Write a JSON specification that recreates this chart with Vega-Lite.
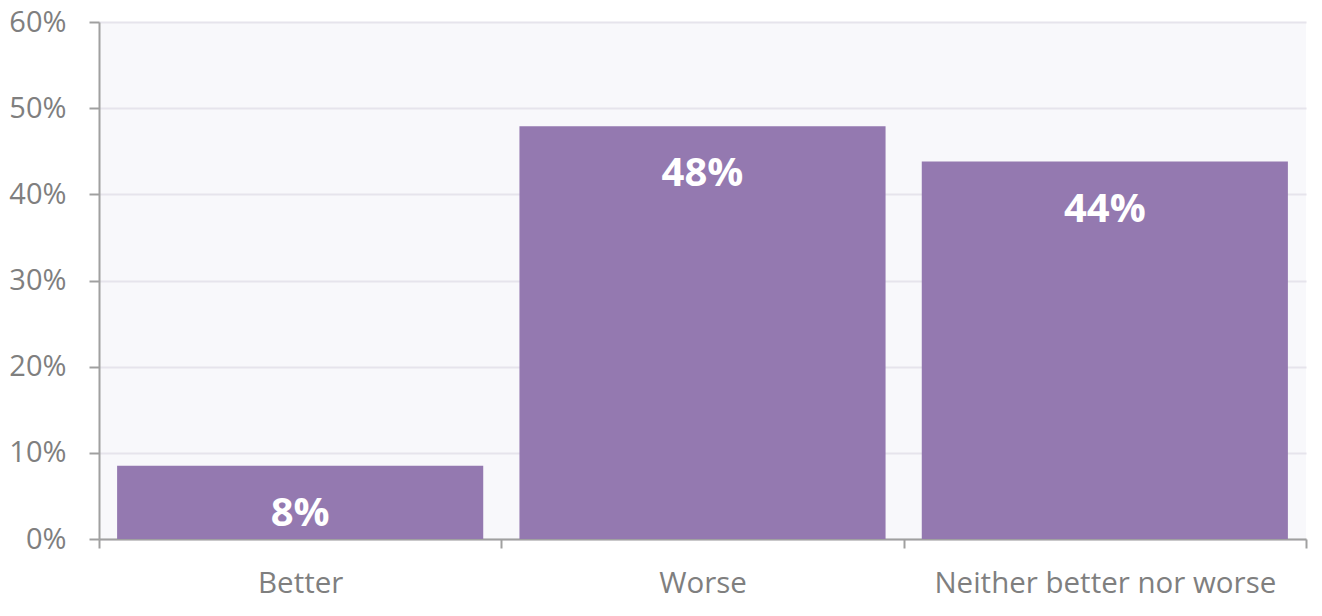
{
  "$schema": "https://vega.github.io/schema/vega-lite/v6.json",
  "width": 1207,
  "height": 517,
  "autosize": {"type": "none"},
  "padding": {"left": 99, "top": 22, "right": 16, "bottom": 77},
  "background": "white",
  "config": {
    "view": {"fill": "#f8f8fb", "stroke": null},
    "font": "Open Sans"
  },
  "data": {
    "values": [
      {"answer": "Better", "share": 8.5, "label": "8%"},
      {"answer": "Worse", "share": 47.9, "label": "48%"},
      {"answer": "Neither better nor worse", "share": 43.8, "label": "44%"}
    ]
  },
  "encoding": {
    "x": {
      "field": "answer",
      "type": "nominal",
      "sort": null,
      "scale": {"paddingInner": 0, "paddingOuter": 0},
      "axis": {
        "title": null,
        "labelAngle": 0,
        "labelFont": "Open Sans",
        "labelFontSize": 29.5,
        "labelLimit": 600,
        "labelColor": "#7f7f7f",
        "labelPadding": 21,
        "tickBand": "extent",
        "tickSize": 9,
        "tickColor": "#a0a0a0",
        "tickWidth": 2,
        "domainColor": "#a0a0a0",
        "domainWidth": 2,
        "grid": false
      }
    }
  },
  "layer": [
    {
      "mark": {"type": "bar", "color": "#9479b0", "width": {"band": 0.91}},
      "encoding": {
        "y": {
          "field": "share",
          "type": "quantitative",
          "scale": {"domain": [0, 60]},
          "axis": {
            "title": null,
            "values": [0, 10, 20, 30, 40, 50, 60],
            "labelExpr": "datum.value + '%'",
            "labelFont": "Open Sans",
            "labelFontSize": 29,
            "labelColor": "#7f7f7f",
            "labelPadding": 23,
            "tickSize": 10,
            "tickColor": "#a0a0a0",
            "tickWidth": 2,
            "domainColor": "#a0a0a0",
            "domainWidth": 2,
            "gridColor": "#e6e4ec",
            "gridWidth": 2
          }
        }
      }
    },
    {
      "mark": {"type": "text", "color": "white", "fontSize": 40, "fontWeight": "bold", "baseline": "middle", "dy": 48, "font": "Open Sans"},
      "encoding": {
        "y": {"field": "share", "type": "quantitative"},
        "text": {"field": "label"}
      }
    }
  ]
}
